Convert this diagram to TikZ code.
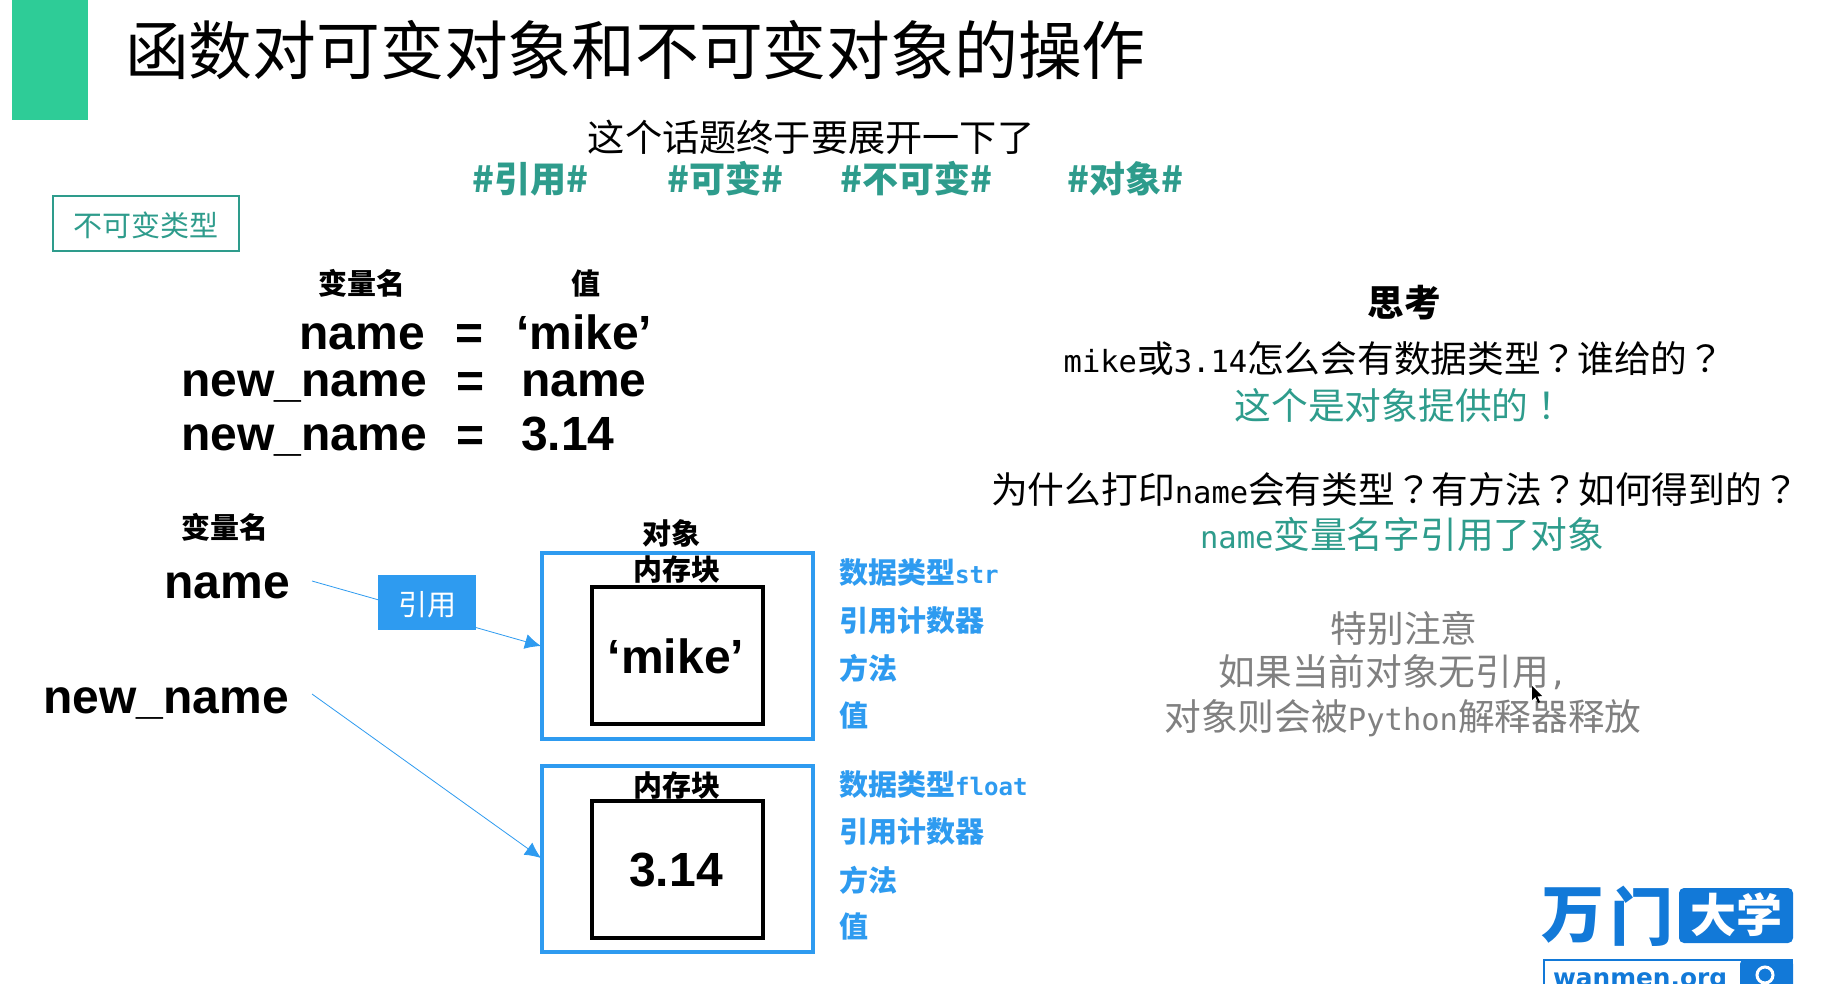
\documentclass[tikz,border=0pt]{standalone}
\usepackage{fontspec}
\setmainfont{Noto Sans CJK SC}
\newfontfamily\lat{DejaVu Sans Mono}
\newfontfamily\ari{Liberation Sans}
\newfontfamily\djv{DejaVu Sans}
\newfontfamily\tcf{Noto Sans CJK TC}
\usetikzlibrary{arrows.meta}
\definecolor{tealtxt}{HTML}{2E9C8C}
\definecolor{bargreen}{HTML}{2ECC97}
\definecolor{skyb}{HTML}{2E9BF0}
\definecolor{logob}{HTML}{1279D8}
\definecolor{greytxt}{HTML}{808080}
\newcommand{\fs}[1]{\fontsize{#1}{#1}\selectfont}
\newcommand{\mo}[1]{{\lat\fs{30.5}#1}}
\newcommand{\fq}{{\tcf ？}}
\newcommand{\fx}{{\tcf ！}}
\newcommand{\lowered}[1]{\raisebox{-13pt}[15pt][15pt]{#1}}
\tikzset{
  txt/.style={inner sep=0pt,outer sep=0pt,align=center},
  subhead/.style={txt,font=\fs{37.2}},
  hashtag/.style={txt,font=\fs{36}\bfseries,text=tealtxt},
  captxt/.style={txt,font=\fs{29}\bfseries},
  codetxt/.style={txt,font=\ari\fs{48}\bfseries},
  think/.style={txt,font=\fs{36.7}},
  attrtxt/.style={txt,anchor=west,font=\fs{29}\bfseries,text=skyb},
  objbox/.style={draw=skyb,line width=4pt,inner sep=0pt},
  valbox/.style={draw=black,line width=4pt,inner sep=0pt},
  conn/.style={draw=skyb,line width=0.8pt,-{Latex[length=16pt,width=15pt]}},
}
\begin{document}
\begin{tikzpicture}[x=1pt,y=-1pt]
\useasboundingbox (0,0) rectangle (1824,983);
\clip (0,0) rectangle (1824,983);
\fill[white] (0,0) rectangle (1824,983);
\fill[bargreen] (12,0) rectangle (88,120);
\node[txt,anchor=west,font=\fs{63.8}] (title) at (125,50) {函数对可变对象和不可变对象的操作};
\node[subhead] (sub) at (811,137) {这个话题终于要展开一下了};
\node[hashtag] (t1) at (530,179) {\#引用\#};
\node[hashtag] (t2) at (725,179) {\#可变\#};
\node[hashtag] (t3) at (916,179) {\#不可变\#};
\node[hashtag] (t4) at (1125,179) {\#对象\#};
\node[draw=tealtxt,line width=2pt,minimum width=186pt,minimum height=55pt,inner sep=0pt,text=tealtxt,font=\fs{29}] (kind) at (146,223.5) {\lowered{不可变类型}};
\node[captxt] (hvar) at (362,283.5) {变量名};
\node[captxt] (hval) at (586,284) {值};
\node[codetxt,anchor=east] (c1) at (425,337) {name};
\node[codetxt,anchor=east] (c2) at (427,386) {new\_name};
\node[codetxt,anchor=east] (c3) at (427,440) {new\_name};
\node[codetxt] (e1) at (470,337) {=};
\node[codetxt] (e2) at (471,385) {=};
\node[codetxt] (e3) at (471,439) {=};
\node[codetxt,anchor=west] (v1) at (516,332) {‘mike’};
\node[codetxt,anchor=west] (v2) at (521,384) {name};
\node[codetxt,anchor=west] (v3) at (521,434) {3.14};
\node[captxt] (hvar2) at (225,527.5) {变量名};
\node[codetxt,anchor=east] (nm1) at (290,586) {name};
\node[codetxt,anchor=east] (nm2) at (289,703) {new\_name};
\node[captxt] (hobj) at (671,533) {对象};
\node[objbox,minimum width=271pt,minimum height=186pt] (b1) at (677,646) {};
\node[objbox,minimum width=271pt,minimum height=186pt] (b2) at (677,859) {};
\node[valbox,minimum width=171pt,minimum height=137pt] (i1) at (677,655) {};
\node[valbox,minimum width=171pt,minimum height=137pt] (i2) at (677,869) {};
\node[captxt] (m1) at (677,570) {内存块};
\node[captxt] (m2) at (677,785) {内存块};
\node[codetxt] (o1) at (676,656) {‘mike’};
\node[codetxt] (o2) at (676,870) {3.14};
\coordinate (a1) at (541,646);
\coordinate (a2) at (541,858);
\draw[conn] ([xshift=22pt,yshift=5pt]nm1.east) -- (a1);
\draw[conn] ([xshift=23pt,yshift=9pt]nm2.east) -- (a2);
\node[fill=skyb,text=white,minimum width=98pt,minimum height=55pt,inner sep=0pt,font=\fs{29}] (ref) at (427,602) {\lowered{引用}};
\node[attrtxt] (l1) at (839,573) {数据类型{\lat\fs{24.1}\bfseries str}};
\node[attrtxt] (l2) at (839,620.5) {引用计数器};
\node[attrtxt] (l3) at (839,668) {方法};
\node[attrtxt] (l4) at (839,715) {值};
\node[attrtxt] (r1) at (839,785) {数据类型{\lat\fs{24.1}\bfseries float}};
\node[attrtxt] (r2) at (839,832) {引用计数器};
\node[attrtxt] (r3) at (839,880) {方法};
\node[attrtxt] (r4) at (839,926) {值};
\node[think,font=\fs{36.6}\bfseries] (q0) at (1404,303) {思考};
\node[think] (q1) at (1394,359) {\mo{mike}或\mo{3.14}怎么会有数据类型\fq 谁给的\fq};
\node[think,text=tealtxt] (a1t) at (1400,405) {这个是对象提供的\fx};
\node[think] (q2) at (1395,489) {为什么打印\mo{name}会有类型\fq 有方法\fq 如何得到的\fq};
\node[think,text=tealtxt] (a2t) at (1402,534) {\mo{name}变量名字引用了对象};
\node[think,text=greytxt] (n1) at (1404,628) {特别注意};
\node[think,text=greytxt] (n2) at (1393,672) {如果当前对象无引用\mo{,}};
\node[think,text=greytxt] (n3) at (1403,718) {对象则会被\mo{Python}解释器释放};
\fill[black] (1532,686) -- (1532,700) -- (1535.5,697) -- (1538,703) -- (1540,702) -- (1537.5,696.5) -- (1542,696) -- cycle;
% logo
\node[txt,font=\fs{63}\bfseries,text=logob] (wm1) at (1573,916) {万};
\node[txt,font=\fs{63}\bfseries,text=logob] (wm2) at (1642,916) {门};
\fill[logob,rounded corners=5pt] (1679,888) rectangle (1793,943);
\node[txt,font=\fs{46}\bfseries,text=white] (dx) at (1736,915) {大学};
\draw[logob,line width=1.5pt] (1544,960) rectangle (1792,1000);
\fill[logob,rounded corners=5pt] (1740,959) rectangle (1793,1000);
\draw[white,line width=3pt] (1765,975) circle (8);
\node[txt,anchor=base west,font=\djv\fs{24.8}\bfseries,text=logob] (url) at (1553,986) {wanmen.org};
\end{tikzpicture}
\end{document}
